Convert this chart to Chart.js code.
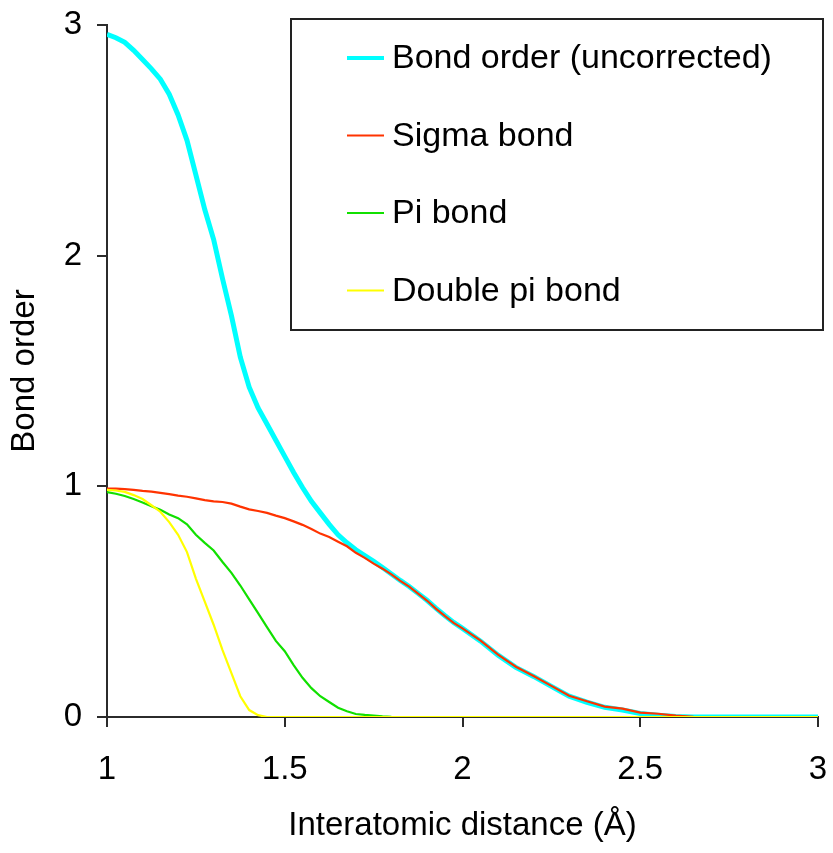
<!DOCTYPE html>
<html>
<head>
<meta charset="utf-8">
<script src="https://cdn.jsdelivr.net/npm/chart.js@4.4.0/dist/chart.umd.min.js"></script>
<style>
  body { margin: 0; background: #fff; }
  #wrap { width: 833px; height: 853px; }
</style>
</head>
<body>
<div id="wrap"><canvas id="bondChart" width="833" height="853"></canvas></div>
<script>
// distances (Å)
const distances = [
  1.000, 1.025, 1.050, 1.075, 1.100, 1.125, 1.150, 1.175, 1.200, 1.225,
  1.250, 1.275, 1.300, 1.325, 1.350, 1.375, 1.400, 1.425, 1.450, 1.475,
  1.500, 1.525, 1.550, 1.575, 1.600, 1.625, 1.650, 1.675, 1.700, 1.725,
  1.750, 1.775, 1.800, 1.825, 1.850, 1.875, 1.900, 1.925, 1.950, 1.975,
  2.000, 2.05, 2.10, 2.15, 2.20, 2.25, 2.30, 2.35, 2.40, 2.45,
  2.50, 2.55, 2.60, 2.65, 2.70, 2.75, 2.80, 2.85, 2.90, 2.95, 3.00
];

const bondOrder = [
  2.96, 2.945, 2.925, 2.89, 2.85, 2.81, 2.765, 2.70, 2.61, 2.50,
  2.35, 2.20, 2.07, 1.90, 1.74, 1.56, 1.43, 1.34, 1.27, 1.20,
  1.13, 1.06, 0.995, 0.935, 0.885, 0.835, 0.79, 0.755, 0.725, 0.70,
  0.675, 0.648, 0.62, 0.592, 0.566, 0.536, 0.506, 0.472, 0.44, 0.41,
  0.384, 0.33, 0.268, 0.215, 0.176, 0.133, 0.09, 0.064, 0.042, 0.03,
  0.015, 0.008, 0.002, 0, 0, 0, 0, 0, 0, 0, 0
];

const sigmaBond = [
  0.99, 0.99, 0.988, 0.985, 0.98, 0.977, 0.972, 0.966, 0.96, 0.955,
  0.948, 0.94, 0.935, 0.932, 0.925, 0.912, 0.90, 0.893, 0.885, 0.873,
  0.862, 0.848, 0.833, 0.815, 0.795, 0.78, 0.76, 0.74, 0.712, 0.69,
  0.665, 0.643, 0.618, 0.59, 0.565, 0.535, 0.505, 0.47, 0.438, 0.408,
  0.384, 0.332, 0.27, 0.218, 0.178, 0.135, 0.092, 0.068, 0.045, 0.036,
  0.019, 0.014, 0.006, 0.001, 0, 0, 0, 0, 0, 0, 0
];

const piBond = [
  0.975, 0.968, 0.958, 0.945, 0.93, 0.914, 0.898, 0.878, 0.862, 0.835,
  0.79, 0.755, 0.722, 0.672, 0.625, 0.57, 0.51, 0.45, 0.39, 0.33,
  0.285, 0.225, 0.17, 0.125, 0.09, 0.065, 0.04, 0.025, 0.013, 0.009,
  0.006, 0.003, 0.001, 0, 0, 0, 0, 0, 0, 0,
  0, 0, 0, 0, 0, 0, 0, 0, 0, 0,
  0, 0, 0, 0, 0, 0, 0, 0, 0, 0, 0
];

const doublePiBond = [
  0.985, 0.982, 0.976, 0.962, 0.945, 0.918, 0.89, 0.845, 0.79, 0.715,
  0.60, 0.50, 0.40, 0.29, 0.19, 0.09, 0.03, 0.008, 0, 0,
  0, 0, 0, 0, 0, 0, 0, 0, 0, 0,
  0, 0, 0, 0, 0, 0, 0, 0, 0, 0,
  0, 0, 0, 0, 0, 0, 0, 0, 0, 0,
  0, 0, 0, 0, 0, 0, 0, 0, 0, 0, 0
];

const xTicks = [1, 1.5, 2, 2.5, 3];
const yTicks = [0, 1, 2, 3];

function toPoints(values) {
  return values.map((v, i) => ({ x: distances[i], y: v }));
}

const FONT = '"Liberation Sans", Arial, sans-serif';
const AXIS_COLOR = '#2b2b2b';

// legend drawn as a framed box inside the plot, like the original
const boxLegend = {
  id: 'boxLegend',
  afterDatasetsDraw(chart) {
    const ctx = chart.ctx;
    const left = 291, top = 19, right = 823, bottom = 330;
    const rows = [58, 135.5, 213, 290.5];
    ctx.save();
    ctx.fillStyle = '#fff';
    ctx.fillRect(left, top, right - left, bottom - top);
    ctx.strokeStyle = '#222';
    ctx.lineWidth = 2;
    ctx.strokeRect(left, top, right - left, bottom - top);
    ctx.font = '34px ' + FONT;
    ctx.textBaseline = 'middle';
    ctx.textAlign = 'left';
    chart.data.datasets.forEach((ds, i) => {
      const y = rows[i];
      ctx.strokeStyle = ds.borderColor;
      ctx.lineWidth = ds.legendWidth;
      ctx.beginPath();
      ctx.moveTo(347, y);
      ctx.lineTo(384, y);
      ctx.stroke();
      ctx.fillStyle = '#000';
      ctx.fillText(ds.label, 392, y + 1);
    });
    ctx.restore();
  }
};

const ctx = document.getElementById('bondChart');
new Chart(ctx, {
  type: 'line',
  data: {
    datasets: [
      {
        label: 'Bond order (uncorrected)',
        data: toPoints(bondOrder),
        borderColor: '#00ffff',
        borderWidth: 5,
        legendWidth: 4,
        order: 4
      },
      {
        label: 'Sigma bond',
        data: toPoints(sigmaBond),
        borderColor: '#ff3300',
        borderWidth: 2.2,
        legendWidth: 2,
        order: 3
      },
      {
        label: 'Pi bond',
        data: toPoints(piBond),
        borderColor: '#11e000',
        borderWidth: 2.2,
        legendWidth: 2,
        order: 2
      },
      {
        label: 'Double pi bond',
        data: toPoints(doublePiBond),
        borderColor: '#ffff00',
        borderWidth: 2.2,
        legendWidth: 2,
        order: 1
      }
    ]
  },
  options: {
    responsive: false,
    animation: false,
    devicePixelRatio: 1,
    layout: { padding: { top: 25, right: 15, left: 0, bottom: 0 } },
    elements: {
      point: { radius: 0 },
      line: { tension: 0, fill: false }
    },
    plugins: {
      legend: { display: false },
      tooltip: { enabled: false }
    },
    scales: {
      x: {
        type: 'linear',
        min: 1,
        max: 3,
        afterFit: (scale) => {
          scale.height = 136;
          scale.paddingLeft = 0;
          scale.paddingRight = 0;
        },
        afterBuildTicks: (scale) => { scale.ticks = xTicks.map(v => ({ value: v })); },
        border: { display: true, color: AXIS_COLOR, width: 2 },
        grid: { drawOnChartArea: false, drawTicks: true, tickLength: 10, color: AXIS_COLOR, lineWidth: 2 },
        ticks: {
          color: '#000',
          padding: 23,
          maxRotation: 0,
          autoSkip: false,
          callback: (v) => String(v),
          font: { family: FONT, size: 33 }
        },
        title: {
          display: true,
          text: 'Interatomic distance (Å)',
          color: '#000',
          padding: { top: 0, bottom: 7 },
          font: { family: FONT, size: 33 }
        }
      },
      y: {
        type: 'linear',
        min: 0,
        max: 3,
        afterFit: (scale) => {
          scale.width = 107;
          scale.paddingTop = 0;
          scale.paddingBottom = 0;
        },
        afterBuildTicks: (scale) => { scale.ticks = yTicks.map(v => ({ value: v })); },
        border: { display: true, color: AXIS_COLOR, width: 2 },
        grid: { drawOnChartArea: false, drawTicks: true, tickLength: 10, color: AXIS_COLOR, lineWidth: 2 },
        ticks: {
          color: '#000',
          padding: 15,
          callback: (v) => String(v),
          font: { family: FONT, size: 33 }
        },
        title: {
          display: true,
          text: 'Bond order',
          color: '#000',
          padding: { top: 5, bottom: 0 },
          font: { family: FONT, size: 33 }
        }
      }
    }
  },
  plugins: [boxLegend]
});
</script>
</body>
</html>
